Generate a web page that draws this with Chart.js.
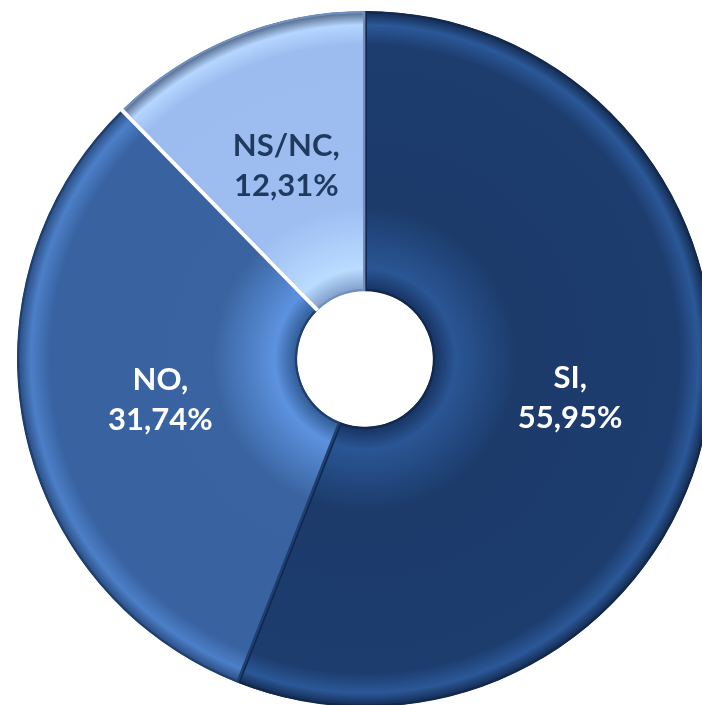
<!DOCTYPE html>
<html>
<head>
<meta charset="utf-8">
<script src="https://cdn.jsdelivr.net/npm/chart.js@4.4.1/dist/chart.umd.min.js"></script>
<style>
  html, body { margin: 0; padding: 0; background: #fff; overflow: hidden; }
  #wrap { position: absolute; left: 0; top: 0; width: 730px; height: 720px; }
</style>
</head>
<body>
<div id="wrap"><canvas id="grafico"></canvas></div>
<script>
const categorias = ['SI', 'NO', 'NS/NC'];
const valores = [55.95, 31.74, 12.31];
const coresTexto = ['#ffffff', '#ffffff', '#1f3a5f'];

// tons por fatia: borda interna, meio, aro externo
const tons = [
  ['#163160', '#2a5694', '#1c3b6b', '#1d3d6f', '#2b5898', '#12284c'],
  ['#2f5890', '#5c92df', '#3a64a0', '#3862a0', '#4c7fc8', '#27497c'],
  ['#7f9cc8', '#b9dcff', '#9ebef2', '#9cbcf0', '#b5d6ff', '#4a5f80']
];

function gradiente(ctx) {
  const cores = tons[ctx.dataIndex];
  const chart = ctx.chart;
  const area = chart.chartArea;
  const ctrl = chart.getDatasetMeta(0).controller;
  if (!area || !ctrl || !ctrl.outerRadius) return cores[2];
  const x = (area.left + area.right) / 2 + (ctrl.offsetX || 0);
  const y = (area.top + area.bottom) / 2 + (ctrl.offsetY || 0);
  const g = chart.ctx.createRadialGradient(x, y, ctrl.innerRadius, x, y, ctrl.outerRadius);
  g.addColorStop(0, cores[0]);
  g.addColorStop(0.08, cores[1]);
  g.addColorStop(0.3, cores[2]);
  g.addColorStop(0.88, cores[3]);
  g.addColorStop(0.95, cores[4]);
  g.addColorStop(1, cores[5]);
  return g;
}

const rotulos = {
  id: 'rotulos',
  afterDatasetsDraw(chart) {
    const ctx = chart.ctx;
    const meta = chart.getDatasetMeta(0);
    ctx.save();
    // fenda branca entre NO e NS/NC
    const ns = meta.data[2].getProps(['x', 'y', 'startAngle', 'innerRadius', 'outerRadius'], true);
    ctx.strokeStyle = '#ffffff';
    ctx.lineWidth = 4;
    ctx.beginPath();
    ctx.moveTo(ns.x + Math.cos(ns.startAngle) * ns.innerRadius, ns.y + Math.sin(ns.startAngle) * ns.innerRadius);
    ctx.lineTo(ns.x + Math.cos(ns.startAngle) * (ns.outerRadius + 2), ns.y + Math.sin(ns.startAngle) * (ns.outerRadius + 2));
    ctx.stroke();

    ctx.font = 'bold 31px Lato, "DejaVu Sans", sans-serif';
    ctx.textAlign = 'center';
    ctx.textBaseline = 'middle';
    meta.data.forEach((arc, i) => {
      const p = arc.getProps(['x', 'y', 'startAngle', 'endAngle', 'outerRadius'], true);
      const meio = (p.startAngle + p.endAngle) / 2;
      const r = p.outerRadius * 0.6;
      const cx = p.x + Math.cos(meio) * r;
      const cy = p.y + Math.sin(meio) * r;
      ctx.fillStyle = coresTexto[i];
      ctx.fillText(categorias[i] + ',', cx, cy - 20);
      ctx.fillText(valores[i].toFixed(2).replace('.', ',') + '%', cx, cy + 20);
    });
    ctx.restore();
  }
};

new Chart(document.querySelector('#grafico'), {
  type: 'doughnut',
  data: {
    labels: categorias,
    datasets: [{
      data: valores,
      backgroundColor: gradiente,
      borderColor: ['#12284c', '#1e3f70', '#6f8fbf'],
      borderWidth: 2,
      borderAlign: 'inner'
    }]
  },
  options: {
    responsive: true,
    maintainAspectRatio: false,
    animation: false,
    cutout: '19.5%',
    layout: { padding: { left: 17, right: 17, top: 11, bottom: 13 } },
    plugins: { legend: { display: false }, tooltip: { enabled: false } }
  },
  plugins: [rotulos]
});
</script>
</body>
</html>
